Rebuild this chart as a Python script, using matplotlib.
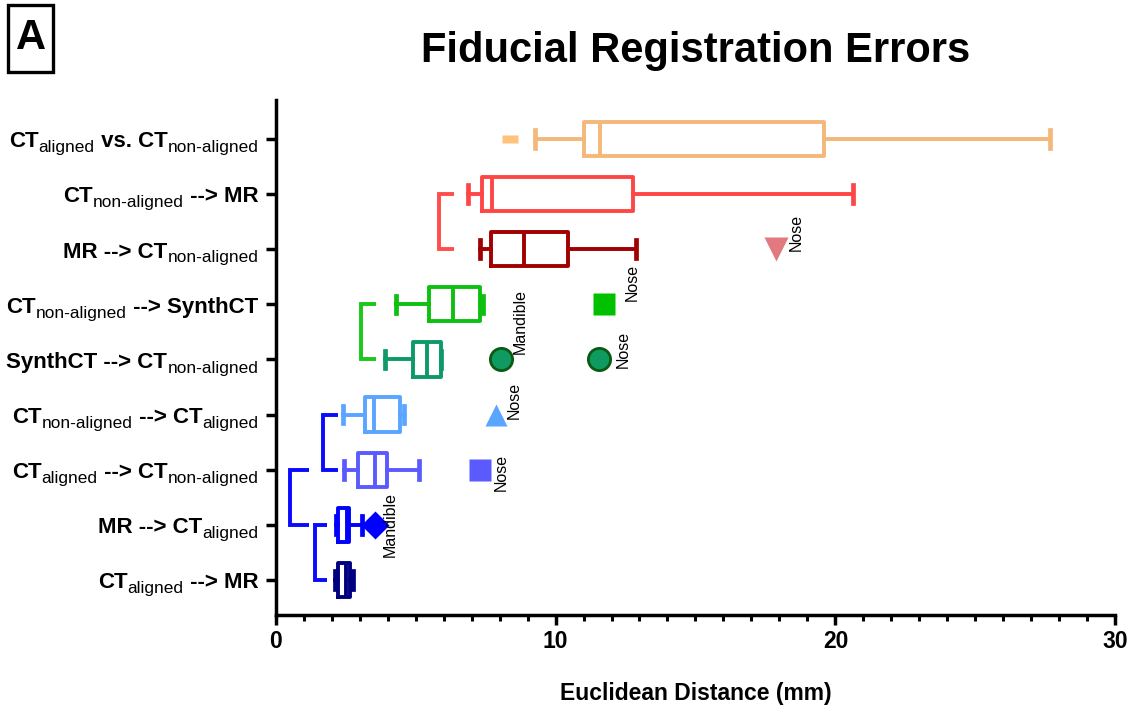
import matplotlib
matplotlib.use("Agg")
import matplotlib.pyplot as plt
from matplotlib.path import Path
from matplotlib.patches import Rectangle

plt.rcParams['font.family'] = ['Liberation Sans', 'DejaVu Sans']

# comparisons, bottom row first; each label is split into (text, is_subscript) pieces
row_labels = [
    [("CT", False), ("aligned", True), (" --> MR", False)],
    [("MR --> CT", False), ("aligned", True)],
    [("CT", False), ("aligned", True), (" --> CT", False), ("non-aligned", True)],
    [("CT", False), ("non-aligned", True), (" --> CT", False), ("aligned", True)],
    [("SynthCT --> CT", False), ("non-aligned", True)],
    [("CT", False), ("non-aligned", True), (" --> SynthCT", False)],
    [("MR --> CT", False), ("non-aligned", True)],
    [("CT", False), ("non-aligned", True), (" --> MR", False)],
    [("CT", False), ("aligned", True), (" vs. CT", False), ("non-aligned", True)],
]

# box statistics in mm (whisker low, Q1, median, Q3, whisker high)
whisker_low = [2.12, 2.16, 2.44, 2.42, 3.91, 4.32, 7.32, 6.87, 9.28]
q1 = [2.24, 2.24, 2.93, 3.20, 4.90, 5.47, 7.68, 7.38, 11.00]
median = [2.50, 2.55, 3.55, 3.51, 5.42, 6.34, 8.88, 7.73, 11.60]
q3 = [2.66, 2.63, 3.99, 4.44, 5.92, 7.32, 10.43, 12.78, 19.60]
whisker_high = [2.78, 3.08, 5.12, 4.59, 5.92, 7.42, 12.87, 20.63, 27.67]

box_colors = ['#000080', '#0000FF', '#5A5AFF', '#5AA5FF', '#0E9A68',
              '#10C010', '#A00000', '#FF4646', '#F4B87A']

# individual outliers
outlier_rows = [1, 2, 3, 4, 4, 5, 6, 8]
outlier_values = [3.55, 7.30, 7.87, 8.05, 11.56, 11.74, 17.86, 8.39]
outlier_names = ['Mandible', 'Nose', 'Nose', 'Mandible', 'Nose', 'Nose', 'Nose', '']

dash = Path([(-1, -0.45), (1, -0.45), (1, 0.45), (-1, 0.45), (-1, -0.45)],
            [Path.MOVETO, Path.LINETO, Path.LINETO, Path.LINETO, Path.CLOSEPOLY])
outlier_markers = ['D', 's', '^', 'o', 'o', 's', 'v', dash]
outlier_sizes = [14, 16.5, 16, 16, 16, 16.5, 17, 12]
outlier_faces = ['#0000FF', '#5A5AFF', '#5AA5FF', '#0E9A60', '#0E9A60',
                 '#00C000', '#E07A7F', '#FFC37D']
outlier_edges = ['none', 'none', 'none', '#0B5A14', '#0B5A14', 'none', 'none', 'none']
# label offsets (points) from the marker centre
label_offsets = [(11, 0), (15, -2), (13, 10), (14, 27), (17, 7), (20, 16), (15, 12), (0, 0)]

# grouping brackets: vertical x, arm end x, top row, bottom row
bracket_x = [5.85, 3.04, 1.68, 0.52, 1.41]
bracket_arm = [6.36, 3.59, 2.23, 1.20, 1.85]
bracket_top = [7, 5, 3, 2, 1]
bracket_bottom = [6, 4, 2, 1, 0]
bracket_colors = ['#FF4D4D', '#1AC81A', '#0A0AFF', '#0A0AFF', '#0A0AFF']

fig = plt.figure(figsize=(11.33, 7.08), dpi=100)
ax = fig.add_axes([0.2432, 0.1314, 0.7413, 0.7274])

lw = 2.8
for i in range(len(row_labels)):
    stats = [dict(whislo=whisker_low[i], q1=q1[i], med=median[i], q3=q3[i],
                  whishi=whisker_high[i], fliers=[])]
    c = box_colors[i]
    ax.bxp(stats, positions=[i], widths=0.62, capwidths=0.32, vert=False,
           showfliers=False,
           boxprops=dict(color=c, linewidth=lw),
           medianprops=dict(color=c, linewidth=lw),
           whiskerprops=dict(color=c, linewidth=lw),
           capprops=dict(color=c, linewidth=lw + 0.6))

for bx, ba, bt, bb, bc in zip(bracket_x, bracket_arm, bracket_top, bracket_bottom, bracket_colors):
    ax.plot([ba, bx, bx, ba], [bt, bt, bb, bb], color=bc, linewidth=lw,
            solid_joinstyle='miter', solid_capstyle='butt')

for r, v, name, m, s, fc, ec, off in zip(outlier_rows, outlier_values, outlier_names,
                                          outlier_markers, outlier_sizes, outlier_faces,
                                          outlier_edges, label_offsets):
    ax.plot([v], [r], linestyle='none', marker=m, markersize=s,
            markerfacecolor=fc, markeredgecolor=ec, markeredgewidth=2.0)
    if name:
        ax.annotate(name, xy=(v, r), xytext=off, textcoords='offset points',
                    rotation=90, ha='center', va='center', fontsize=11.5)

ax.set_xlim(0, 30)
ax.set_ylim(-0.635, 8.707)
ax.set_xticks([0, 10, 20, 30])
ax.set_xticks(range(0, 31), minor=True)
ax.set_yticks(range(len(row_labels)))
ax.set_yticklabels([])

for side in ['top', 'right']:
    ax.spines[side].set_visible(False)
for side in ['left', 'bottom']:
    ax.spines[side].set_linewidth(2.5)

ax.tick_params(axis='both', which='major', length=7.5, width=2.5, direction='out')
ax.tick_params(axis='x', which='minor', length=4.5, width=2.2)
ax.tick_params(axis='x', which='major', pad=3, labelsize=16.5)
for t in ax.get_xticklabels():
    t.set_fontweight('bold')

ax.set_xlabel('Euclidean Distance (mm)', fontsize=16.5, fontweight='bold', labelpad=21)
ax.set_title('Fiducial Registration Errors', fontsize=30, fontweight='bold', pad=27)

# y labels built right to left from main and subscript pieces
renderer = fig.canvas.get_renderer()
for row, pieces in enumerate(row_labels):
    x_off = -12.5
    for text, is_sub in reversed(pieces):
        t = ax.annotate(text, xy=(0, row), xycoords=('axes fraction', 'data'),
                        xytext=(x_off, -9.5 if is_sub else -6.0), textcoords='offset points',
                        ha='right', va='baseline',
                        fontsize=12.4 if is_sub else 16,
                        fontweight='normal' if is_sub else 'bold')
        x_off -= t.get_window_extent(renderer).width * 72 / fig.dpi

# panel letter
fig.patches.append(Rectangle((8 / 1133, 1 - 72 / 708), 45 / 1133, 67 / 708,
                             transform=fig.transFigure, fill=False,
                             edgecolor='black', linewidth=2.4))
fig.text(30.5 / 1133, 1 - 38 / 708, 'A', fontsize=30, fontweight='bold',
         ha='center', va='center')

fig.savefig('out.png', dpi=100)
